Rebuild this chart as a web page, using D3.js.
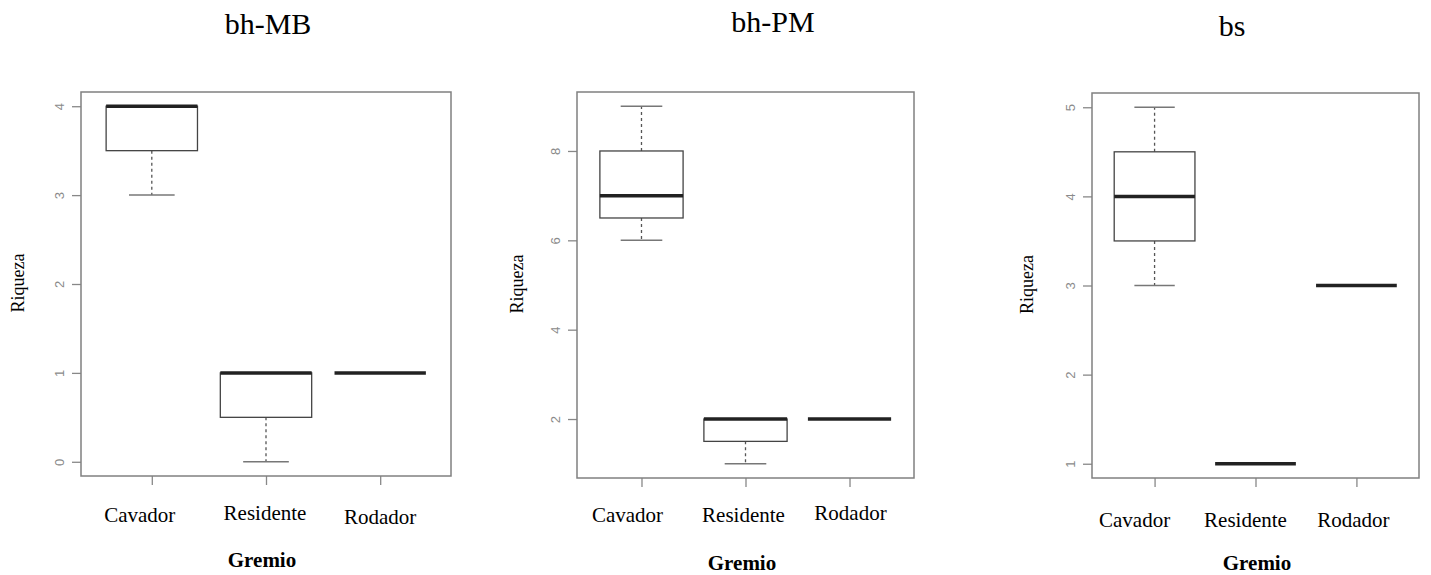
<!DOCTYPE html>
<html>
<head>
<meta charset="utf-8">
<script src="https://cdn.jsdelivr.net/npm/d3@7"></script>
<style>
  body { margin: 0; background: #fff; }
  svg { display: block; }
</style>
</head>
<body>
<div id="chart"></div>
<script>
// Datos: categorias y resumen de cada caja (min, q1, mediana, q3, max)
const categories = ["Cavador", "Residente", "Rodador"];
const panelTitles = ["bh-MB", "bh-PM", "bs"];
const statsMB = [[3, 3.5, 4, 4, 4], [0, 0.5, 1, 1, 1], [1, 1, 1, 1, 1]];
const statsPM = [[6, 6.5, 7, 8, 9], [1, 1.5, 2, 2, 2], [2, 2, 2, 2, 2]];
const statsBS = [[3, 3.5, 4, 4.5, 5], [1, 1, 1, 1, 1], [3, 3, 3, 3, 3]];
const ticksMB = [0, 1, 2, 3, 4];
const ticksPM = [2, 4, 6, 8];
const ticksBS = [1, 2, 3, 4, 5];
const yLabel = "Riqueza";
const xLabel = "Gremio";

// Disposicion de cada panel
const panels = [
  { title: panelTitles[0], stats: statsMB, ticks: ticksMB,
    x0: 81, x1: 451, y0: 92, y1: 476,
    titleX: 268, titleY: 34, yLabX: 24, gremioX: 262, gremioY: 567,
    labShift: [-12, -1, 0], labY: [522, 520, 524] },
  { title: panelTitles[1], stats: statsPM, ticks: ticksPM,
    x0: 577, x1: 914, y0: 92, y1: 478,
    titleX: 773, titleY: 32, yLabX: 523, gremioX: 742, gremioY: 570,
    labShift: [-14, -2, 1], labY: [522, 522, 520] },
  { title: panelTitles[2], stats: statsBS, ticks: ticksBS,
    x0: 1092, x1: 1419, y0: 93, y1: 478,
    titleX: 1232, titleY: 36, yLabX: 1033, gremioX: 1257, gremioY: 570,
    labShift: [-20, -10, -3], labY: [527, 527, 527] }
];

const svg = d3.select("#chart").append("svg")
  .attr("width", 1431)
  .attr("height", 575);

const serif = "'Liberation Serif', 'Times New Roman', serif";

panels.forEach(p => {
  const g = svg.append("g");

  // Escalas al estilo R (extension de 4%)
  const lo = d3.min(p.stats, d => d[0]);
  const hi = d3.max(p.stats, d => d[4]);
  const pad = (hi - lo) * 0.04;
  const y = d3.scaleLinear().domain([lo - pad, hi + pad]).range([p.y1, p.y0]);
  const x = d3.scaleLinear().domain([0.5 - 0.12, 3.5 + 0.12]).range([p.x0, p.x1]);
  const boxW = x(0.8) - x(0);
  const capW = x(0.4) - x(0);

  // Titulo
  g.append("text")
    .attr("x", p.titleX).attr("y", p.titleY)
    .attr("text-anchor", "middle")
    .attr("font-family", serif).attr("font-size", 30)
    .text(p.title);

  // Eje Y
  const yAxis = g.append("g")
    .attr("transform", `translate(${p.x0},0)`)
    .call(d3.axisLeft(y).tickValues(p.ticks).tickSize(9).tickSizeOuter(0).tickFormat(d3.format("d")));
  yAxis.select(".domain").remove();
  yAxis.selectAll(".tick line").attr("stroke", "#888").attr("stroke-width", 1.3);
  yAxis.selectAll(".tick text")
    .attr("x", null).attr("dy", null)
    .attr("transform", "translate(-22,0) rotate(-90)")
    .attr("text-anchor", "middle")
    .attr("dominant-baseline", "central")
    .attr("font-family", "'Liberation Sans', Arial, sans-serif")
    .attr("font-size", 13)
    .attr("fill", "#8a8a8a");

  // Eje X (solo marcas)
  const xAxis = g.append("g")
    .attr("transform", `translate(0,${p.y1})`)
    .call(d3.axisBottom(x).tickValues([1, 2, 3]).tickSize(9).tickSizeOuter(0).tickFormat(""));
  xAxis.select(".domain").remove();
  xAxis.selectAll(".tick line").attr("stroke", "#888").attr("stroke-width", 1.3);

  // Etiquetas de categoria
  g.selectAll(".cat")
    .data(categories)
    .enter().append("text")
    .attr("x", (d, i) => x(i + 1) + p.labShift[i])
    .attr("y", (d, i) => p.labY[i])
    .attr("text-anchor", "middle")
    .attr("font-family", serif).attr("font-size", 21)
    .text(d => d);

  g.append("text")
    .attr("x", p.gremioX).attr("y", p.gremioY)
    .attr("text-anchor", "middle")
    .attr("font-family", serif).attr("font-size", 21).attr("font-weight", "bold")
    .text(xLabel);

  g.append("text")
    .attr("transform", `translate(${p.yLabX},${(p.y0 + p.y1) / 2 - 1}) rotate(-90)`)
    .attr("text-anchor", "middle")
    .attr("font-family", serif).attr("font-size", 18)
    .text(yLabel);

  // Cajas
  p.stats.forEach((s, i) => {
    const cx = x(i + 1);
    const [mn, q1, md, q3, mx] = s;
    if (mx > q3) {
      g.append("line").attr("x1", cx).attr("x2", cx).attr("y1", y(q3)).attr("y2", y(mx))
        .attr("stroke", "#555").attr("stroke-width", 1.3).attr("stroke-dasharray", "3,3");
    }
    if (mn < q1) {
      g.append("line").attr("x1", cx).attr("x2", cx).attr("y1", y(q1)).attr("y2", y(mn))
        .attr("stroke", "#555").attr("stroke-width", 1.3).attr("stroke-dasharray", "3,3");
    }
    if (mx > q3) {
      g.append("line").attr("x1", cx - capW / 2).attr("x2", cx + capW / 2).attr("y1", y(mx)).attr("y2", y(mx))
        .attr("stroke", "#777").attr("stroke-width", 1.5);
    }
    if (mn < q1) {
      g.append("line").attr("x1", cx - capW / 2).attr("x2", cx + capW / 2).attr("y1", y(mn)).attr("y2", y(mn))
        .attr("stroke", "#777").attr("stroke-width", 1.5);
    }
    if (q3 > q1) {
      g.append("rect")
        .attr("x", cx - boxW / 2).attr("y", y(q3))
        .attr("width", boxW).attr("height", y(q1) - y(q3))
        .attr("fill", "none").attr("stroke", "#444").attr("stroke-width", 1.3);
    }
    g.append("line").attr("x1", cx - boxW / 2).attr("x2", cx + boxW / 2).attr("y1", y(md)).attr("y2", y(md))
      .attr("stroke", "#222").attr("stroke-width", 3.5);
  });

  // Marco
  g.append("rect")
    .attr("x", p.x0).attr("y", p.y0)
    .attr("width", p.x1 - p.x0).attr("height", p.y1 - p.y0)
    .attr("fill", "none").attr("stroke", "#808080").attr("stroke-width", 1.5);
});
</script>
</body>
</html>
